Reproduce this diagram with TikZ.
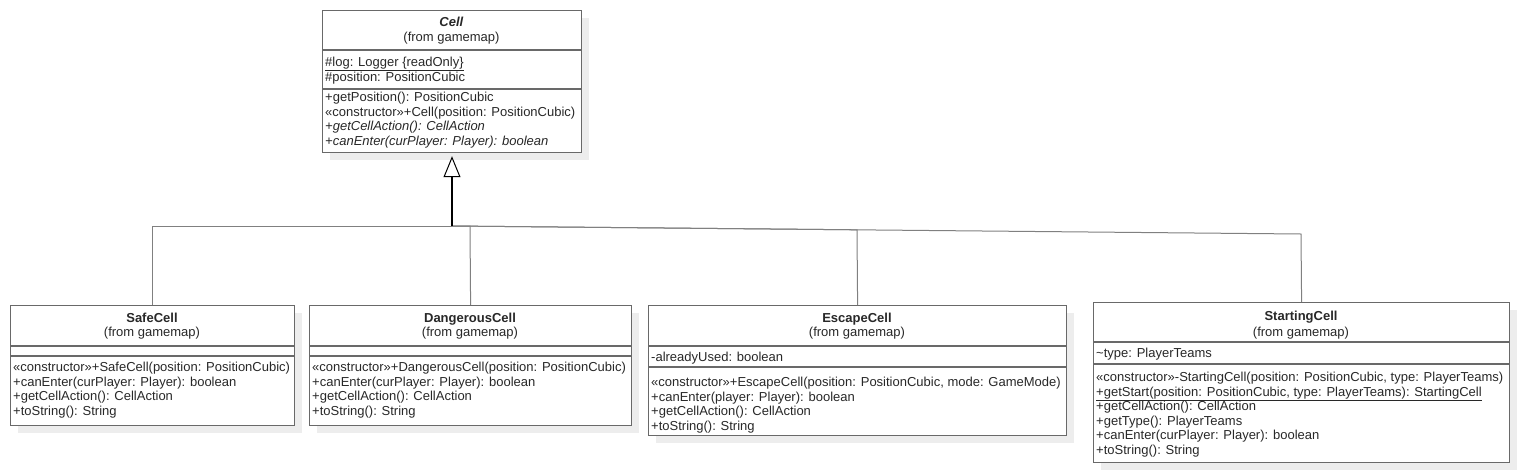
\documentclass[tikz,border=0pt]{standalone}
\usepackage{fontspec}
\setmainfont{Liberation Sans}
\usepackage{tikz}
\usetikzlibrary{arrows.meta}
\usetikzlibrary{shadows}
\definecolor{boxgray}{RGB}{105,105,105}
\definecolor{linegray}{RGB}{128,128,128}
\definecolor{textgray}{RGB}{40,40,40}
\newcommand{\umlfont}{\fontsize{13}{14.6}\selectfont}
\tikzset{
classbox/.style = { rectangle, draw = boxgray, fill = white, line width = 1.2pt, inner sep = 0pt, anchor = north west,
  drop shadow={shadow xshift=7pt,shadow yshift=-7pt,fill=black!7,opacity=1} },
sepline/.style = { draw = boxgray, line width = 1.2pt },
cname/.style = { font = \umlfont\bfseries, inner sep = 0pt, anchor = base },
cfrom/.style = { font = \umlfont, inner sep = 0pt, anchor = base },
members/.style = { font = \umlfont, align = left, anchor = north west, inner sep = 0pt },
genline/.style = { draw = linegray, line width = 1pt },
trunk/.style = { draw = black, line width = 1.3pt },
}

\begin{document}
\begin{tikzpicture}[x = 1pt, y = -1pt, text = textgray]
    \useasboundingbox (0, 0) rectangle (1519, 472);

    % superclass
    \node[classbox, minimum width = 259pt, minimum height = 142pt] (cell) at (322, 10) {};
    \draw[sepline] (322, 50) -- (581, 50);
    \draw[sepline] (322, 89) -- (581, 89);
    \node[cname] (cellname) at (451.5, 26.5) {\textit{Cell}};
    \node[cfrom] (cellfrom) at (451.5, 41.5) {(from gamemap)};
    \node[members] (cellattr) at (325, 56) {\strut\underline{\#log: Logger \{readOnly\}}\\\#position: PositionCubic};
    \node[members] (cellops) at (325, 91) {\strut+getPosition(): PositionCubic\\«constructor»+Cell(position: PositionCubic)\\\textit{+getCellAction(): CellAction}\\\textit{+canEnter(curPlayer: Player): boolean}};

    % SafeCell
    \node[classbox, minimum width = 284pt, minimum height = 120pt] (safe) at (10, 305) {};
    \draw[sepline] (10, 346) -- (294, 346);
    \draw[sepline] (10, 356) -- (294, 356);
    \node[cname] (safename) at (152, 322.5) {SafeCell};
    \node[cfrom] (safefrom) at (152, 336.5) {(from gamemap)};
    \node[members] (safeops) at (13, 361) {\strut«constructor»+SafeCell(position: PositionCubic)\\+canEnter(curPlayer: Player): boolean\\+getCellAction(): CellAction\\+toString(): String};

    % DangerousCell
    \node[classbox, minimum width = 322pt, minimum height = 120pt] (danger) at (309, 305) {};
    \draw[sepline] (309, 346) -- (631, 346);
    \draw[sepline] (309, 356) -- (631, 356);
    \node[cname] (dangername) at (470, 322.5) {DangerousCell};
    \node[cfrom] (dangerfrom) at (470, 336.5) {(from gamemap)};
    \node[members] (dangerops) at (312, 361) {\strut«constructor»+DangerousCell(position: PositionCubic)\\+canEnter(curPlayer: Player): boolean\\+getCellAction(): CellAction\\+toString(): String};

    % EscapeCell
    \node[classbox, minimum width = 418pt, minimum height = 130pt] (escape) at (648, 305) {};
    \draw[sepline] (648, 346) -- (1066, 346);
    \draw[sepline] (648, 367) -- (1066, 367);
    \node[cname] (escapename) at (857, 322.5) {EscapeCell};
    \node[cfrom] (escapefrom) at (857, 336.5) {(from gamemap)};
    \node[members] (escapeattr) at (651, 351) {\strut-alreadyUsed: boolean};
    \node[members] (escapeops) at (651, 376) {\strut«constructor»+EscapeCell(position: PositionCubic, mode: GameMode)\\+canEnter(player: Player): boolean\\+getCellAction(): CellAction\\+toString(): String};

    % StartingCell
    \node[classbox, minimum width = 416pt, minimum height = 160pt] (start) at (1093, 302) {};
    \draw[sepline] (1093, 342) -- (1509, 342);
    \draw[sepline] (1093, 364) -- (1509, 364);
    \node[cname] (startname) at (1301, 320) {StartingCell};
    \node[cfrom] (startfrom) at (1301, 336) {(from gamemap)};
    \node[members] (startattr) at (1096, 347) {\strut\textasciitilde type: PlayerTeams};
    \node[members] (startops) at (1096, 371) {\strut«constructor»-StartingCell(position: PositionCubic, type: PlayerTeams)\\\underline{+getStart(position: PositionCubic, type: PlayerTeams): StartingCell}\\+getCellAction(): CellAction\\+getType(): PlayerTeams\\+canEnter(curPlayer: Player): boolean\\+toString(): String};

    % generalization
    \coordinate (jn) at (452, 226);
    \coordinate (kdanger) at (470, 226.2);
    \coordinate (kescape) at (857, 229.8);
    \coordinate (kstart) at (1301, 234);
    \draw[genline] (safe.north) |- (jn);
    \draw[genline] (danger.north) -- (kdanger) -- (jn);
    \draw[genline] (escape.north) -- (kescape) -- (jn);
    \draw[genline] (start.north) -- (kstart) -- (jn);
    \draw[trunk, shorten > = 3pt, -{Triangle[open, length = 21pt, width = 17pt, line width = 1pt]}] (jn) -- (jn |- cell.south);
\end{tikzpicture}
\end{document}
